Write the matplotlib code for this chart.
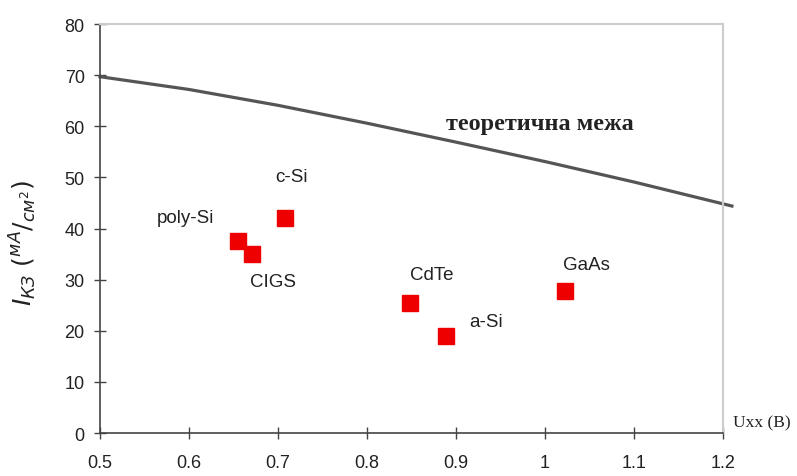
import numpy as np
import matplotlib.pyplot as plt

# межа (теоретична)
limit_u = [0.5, 0.6, 0.7, 0.8, 0.9, 1.0, 1.1, 1.21]
limit_i = [69.7, 67.2, 64.1, 60.6, 56.9, 53.1, 49.1, 44.4]

# сонячні елементи
cells = ['poly-Si', 'CIGS', 'c-Si', 'CdTe', 'a-Si', 'GaAs']
u_cells = [0.655, 0.671, 0.708, 0.848, 0.889, 1.022]
i_cells = [37.6, 35.0, 42.1, 25.4, 19.0, 27.8]
# зсув підписів, пікселі
offsets = [(-52, 23), (21, -27), (6, 41), (22, 29), (40, 14), (22, 26)]

fig = plt.figure(figsize=(7.97, 4.77), dpi=100)
ax = fig.add_axes([0.1255, 0.0901, 0.7817, 0.8574])

ax.plot(limit_u, limit_i, color='#555555', lw=2.3, clip_on=False)
ax.plot(u_cells, i_cells, 's', color='#ee0000', ms=11, ls='none')

for name, u, i, off in zip(cells, u_cells, i_cells, offsets):
    ax.annotate(name, (u, i), xytext=off, textcoords='offset pixels',
                ha='center', va='center', fontsize=13.5,
                family='Liberation Sans', color='#222222')

ax.text(0.994, 60.5, 'теоретична межа', fontsize=17.5, fontweight='bold',
        family='Liberation Serif', ha='center', va='center', color='#222222')

ax.set_xlim(0.5, 1.2)
ax.set_ylim(0, 80)
ax.set_xticks([0.5, 0.6, 0.7, 0.8, 0.9, 1.0, 1.1, 1.2])
ax.set_xticklabels(['0.5', '0.6', '0.7', '0.8', '0.9', '1', '1.1', '1.2'])
ax.set_yticks(np.arange(0, 81, 10))
for lab in ax.get_xticklabels() + ax.get_yticklabels():
    lab.set_family('Liberation Sans')
    lab.set_fontsize(13)
    lab.set_color('#222222')

ax.spines['top'].set_color('#cccccc')
ax.spines['right'].set_color('#cccccc')
ax.spines['top'].set_linewidth(1.5)
ax.spines['right'].set_linewidth(1.5)
ax.spines['left'].set_color('#444444')
ax.spines['bottom'].set_color('#444444')
ax.spines['left'].set_linewidth(1.2)
ax.spines['bottom'].set_linewidth(1.2)
ax.tick_params(direction='inout', length=8, color='#444444', width=1.0)
ax.tick_params(axis='x', pad=11)
ax.tick_params(axis='y', pad=7)

ax.text(1.211, 2.0, 'Uxx (B)', family='Liberation Serif', fontsize=12.5,
        ha='left', va='center', color='#222222')

plt.rcParams['mathtext.fontset'] = 'dejavuserif'
ax.set_ylabel(r'$I_{КЗ}\ (^{мА}/_{см^2})$', fontsize=18, color='#222222')
ax.yaxis.set_label_coords(-0.098, 0.467)

fig.savefig('out.png', dpi=100)
